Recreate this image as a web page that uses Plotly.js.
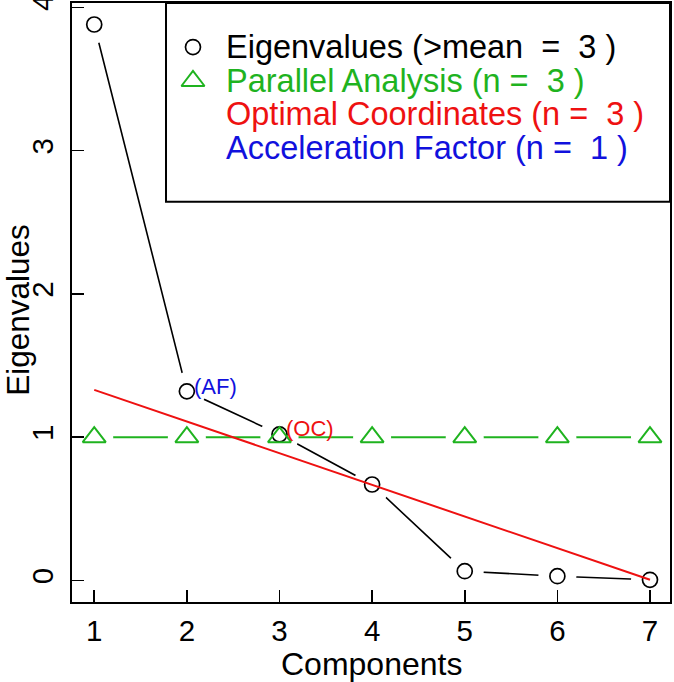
<!DOCTYPE html>
<html>
<head>
<meta charset="utf-8">
<script src="https://cdn.plot.ly/plotly-3.0.1.min.js"></script>
<style>html,body{margin:0;padding:0;background:#fff;}#chart{width:674px;height:682px;}</style>
</head>
<body>
<div id="chart"></div>
<script>
// ---- data ----
var components = [1, 2, 3, 4, 5, 6, 7];
var eigenvalues = [3.88, 1.32, 1.02, 0.67, 0.065, 0.03, 0.005];
var parallelAnalysis = [1.0, 1.0, 1.0, 1.0, 1.0, 1.0, 1.0];
var ocLineX = [1, 7];
var ocLineY = [1.33, 0.005];
var afIndex = 1;   // component 2
var ocIndex = 2;   // component 3
var legendTexts = [
  "Eigenvalues (>mean\u00a0\u00a0=\u00a0\u00a03 )",
  "Parallel Analysis (n =\u00a0\u00a03 )",
  "Optimal Coordinates (n =\u00a0\u00a03 )",
  "Acceleration Factor (n =\u00a0\u00a01 )"
];
var xTickVals = [1, 2, 3, 4, 5, 6, 7];
var yTickVals = [0, 1, 2, 3, 4];

// ---- styles ----
var BLACK = "#000000", GREEN = "#1fb31f", RED = "#ee1111", BLUE = "#1111dd";
var legendColors = [BLACK, GREEN, RED, BLUE];
var FONT = "Liberation Sans, Arial, sans-serif";
var GAP = 38;

var traces = [
  {x: components, y: eigenvalues, mode: "lines", line: {color: BLACK, width: 1.6}, hoverinfo: "skip"},
  {x: components, y: parallelAnalysis, mode: "lines", line: {color: GREEN, width: 2}, hoverinfo: "skip"},
  // white discs to emulate R type="b" gaps
  {x: components, y: eigenvalues, mode: "markers", marker: {symbol: "circle", size: GAP, color: "#ffffff", line: {width: 0}}, hoverinfo: "skip"},
  {x: components, y: parallelAnalysis, mode: "markers", marker: {symbol: "circle", size: GAP, color: "#ffffff", line: {width: 0}}, hoverinfo: "skip"},
  {x: components, y: eigenvalues, mode: "markers", marker: {symbol: "circle-open", size: 15, color: BLACK, line: {width: 1.7, color: BLACK}}},
  {x: components, y: parallelAnalysis, mode: "markers", marker: {symbol: "triangle-up-open", size: 20, color: GREEN, line: {width: 2, color: GREEN}}},
  {x: ocLineX, y: ocLineY, mode: "lines", line: {color: RED, width: 2}, hoverinfo: "skip"},
  // legend symbols on an overlay axis spanning the plot area
  {x: [0.2023], y: [0.9265], xaxis: "x2", yaxis: "y2", mode: "markers", cliponaxis: false,
   marker: {symbol: "circle-open", size: 15, color: BLACK, line: {width: 1.7, color: BLACK}}},
  {x: [0.2023], y: [0.8698], xaxis: "x2", yaxis: "y2", mode: "markers", cliponaxis: false,
   marker: {symbol: "triangle-up-open", size: 20, color: GREEN, line: {width: 2, color: GREEN}}}
];

var annotations = [];
var legendY = [0.9265, 0.8698, 0.8147, 0.7579];
for (var i = 0; i < legendTexts.length; i++) {
  annotations.push({xref: "paper", yref: "paper", x: 0.2545, y: legendY[i], xanchor: "left", yanchor: "middle",
    text: legendTexts[i], showarrow: false, font: {family: FONT, size: 32.5, color: legendColors[i]}});
}
annotations.push({x: components[afIndex], y: eigenvalues[afIndex], xref: "x", yref: "y", xanchor: "left", yanchor: "middle",
  xshift: 5, yshift: 5, text: "(AF)", showarrow: false, font: {family: FONT, size: 22, color: BLUE}});
annotations.push({x: components[ocIndex], y: eigenvalues[ocIndex], xref: "x", yref: "y", xanchor: "left", yanchor: "middle",
  xshift: 5, yshift: 6, text: "(OC)", showarrow: false, font: {family: FONT, size: 22, color: RED}});
// axis titles
annotations.push({xref: "paper", yref: "paper", x: 0.5, y: -0.104, xanchor: "center", yanchor: "middle",
  text: "Components", showarrow: false, font: {family: FONT, size: 32, color: BLACK}});
annotations.push({xref: "paper", yref: "paper", x: -0.09, y: 0.488, xanchor: "center", yanchor: "middle", textangle: -90,
  text: "Eigenvalues", showarrow: false, font: {family: FONT, size: 31.5, color: BLACK}});

var layout = {
  width: 674, height: 682,
  margin: {l: 72, r: 4, t: 3, b: 80, pad: 0},
  paper_bgcolor: "#ffffff", plot_bgcolor: "#ffffff",
  showlegend: false,
  font: {family: FONT, color: BLACK},
  xaxis: {range: [0.76, 7.216], tickvals: xTickVals, ticks: "inside", ticklen: 12, tickwidth: 1.6, tickcolor: BLACK,
    showgrid: false, zeroline: false, showline: true, linecolor: BLACK, linewidth: 2, mirror: true,
    tickfont: {family: FONT, size: 29.5, color: BLACK}, ticklabelstandoff: 2, ticklabeloverflow: "allow"},
  yaxis: {range: [-0.15, 4.03], tickvals: yTickVals, ticks: "inside", ticklen: 12, tickwidth: 1.6, tickcolor: BLACK,
    showgrid: false, zeroline: false, showline: true, linecolor: BLACK, linewidth: 2, mirror: true, tickangle: -90,
    tickfont: {family: FONT, size: 29.5, color: BLACK}, ticklabelstandoff: 5, ticklabeloverflow: "allow"},
  xaxis2: {overlaying: "x", range: [0, 1], visible: false, fixedrange: true},
  yaxis2: {overlaying: "y", range: [0, 1], visible: false, fixedrange: true},
  shapes: [
    {type: "rect", xref: "paper", yref: "paper", x0: 0.1572, x1: 1, y0: 0.668, y1: 1,
     line: {color: BLACK, width: 2}, fillcolor: "rgba(0,0,0,0)", layer: "above"}
  ],
  annotations: annotations
};

Plotly.newPlot("chart", traces, layout, {staticPlot: true, displayModeBar: false});
</script>
</body>
</html>
